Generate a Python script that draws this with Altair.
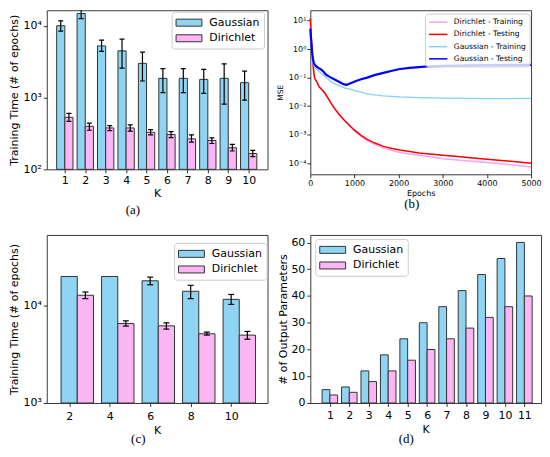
import altair as alt
import pandas as pd

# ---------------- data ----------------
# (a) training time vs K (log scale)
K_a = [1, 2, 3, 4, 5, 6, 7, 8, 9, 10]
gauss_a = [10000, 14800, 5240, 4470, 2990, 1850, 1850, 1790, 1850, 1610]
gauss_a_lo = [8440, 12600, 4400, 2570, 1700, 1170, 1170, 1140, 810, 920]
gauss_a_hi = [11700, 17400, 6300, 6500, 4280, 2520, 2520, 2470, 2950, 2330]
dir_a = [530, 397, 377, 377, 328, 305, 266, 252, 200, 166]
dir_a_lo = [466, 350, 347, 340, 302, 277, 240, 229, 180, 150]
dir_a_hi = [600, 440, 405, 415, 357, 335, 302, 275, 222, 184]

# (b) MSE vs epochs
dir_train_ep = [0, 20, 40, 60, 80, 100, 150, 200, 250, 320, 400, 480, 543, 650, 766, 880, 989,
                1150, 1288, 1450, 1658, 1850, 2031, 2254, 2462, 2700, 2998, 3400, 3743, 4200, 4600, 5000]
dir_train_mse = [12, 3.0, 0.8, 0.3, 0.15, 0.095, 0.07, 0.048, 0.04, 0.03, 0.019, 0.012, 0.0085, 0.0051,
                 0.0032, 0.0021, 0.0014, 0.00088, 0.00062, 0.00046, 0.00034, 0.00028, 0.00024, 0.00021,
                 0.00019, 0.00017, 0.000145, 0.000127, 0.000115, 0.0001, 0.000087, 0.000074]
dir_test_ep = [0, 20, 40, 60, 80, 100, 150, 200, 250, 320, 400, 480, 543, 650, 766, 880, 989,
               1150, 1288, 1450, 1658, 1850, 2031, 2254, 2462, 2700, 2998, 3400, 3743, 4200, 4600, 5000]
dir_test_mse = [12, 3.0, 0.8, 0.3, 0.15, 0.095, 0.07, 0.048, 0.04, 0.03, 0.019, 0.012, 0.0085, 0.0052,
                0.0033, 0.0022, 0.0015, 0.00095, 0.00069, 0.00052, 0.00039, 0.00033, 0.00029, 0.00026,
                0.00023, 0.00021, 0.00019, 0.00017, 0.00015, 0.00013, 0.000115, 0.0001]
gau_train_ep = [0, 20, 40, 60, 80, 100, 150, 200, 245, 300, 400, 469, 540, 618, 700, 766, 880, 989,
                1150, 1288, 1450, 1658, 1850, 2031, 2462, 3000, 3500, 4000, 4500, 5000]
gau_train_mse = [3.5, 1.2, 0.5, 0.32, 0.26, 0.23, 0.19, 0.16, 0.14, 0.12, 0.09, 0.071, 0.062, 0.055,
                 0.049, 0.044, 0.04, 0.036, 0.031, 0.027, 0.025, 0.023, 0.022, 0.021, 0.02, 0.019,
                 0.0187, 0.0185, 0.0185, 0.0186]
gau_test_ep = [0, 20, 40, 60, 80, 100, 150, 200, 250, 300, 350, 400, 469, 540, 618, 700, 766, 820, 870,
               950, 1050, 1150, 1288, 1450, 1658, 1850, 2031, 2254, 2462, 2700, 3000, 3500, 4000, 4500, 5000]
gau_test_mse = [5.2, 2.0, 0.8, 0.45, 0.33, 0.28, 0.24, 0.21, 0.19, 0.16, 0.13, 0.115, 0.1, 0.088, 0.076,
                0.065, 0.058, 0.056, 0.06, 0.068, 0.078, 0.088, 0.1, 0.122, 0.147, 0.175, 0.2, 0.22,
                0.235, 0.25, 0.26, 0.27, 0.275, 0.28, 0.28]

# (c) training time vs K (log scale)
K_c = [2, 4, 6, 8, 10]
gauss_c = [19700, 19700, 17800, 13900, 11500]
gauss_c_lo = [19700, 19700, 16200, 11700, 10200]
gauss_c_hi = [19700, 19700, 19400, 16000, 12900]
dir_c = [12650, 6500, 6160, 5110, 4950]
dir_c_lo = [11690, 6120, 5700, 4950, 4500]
dir_c_hi = [13670, 6930, 6610, 5320, 5400]

# (d) number of output parameters
K_d = [1, 2, 3, 4, 5, 6, 7, 8, 9, 10, 11]
gauss_d = [5, 6, 12, 18, 24, 30, 36, 42, 48, 54, 60]
dir_d = [3, 4, 8, 12, 16, 20, 24, 28, 32, 36, 40]

models = ["Gaussian", "Dirichlet"]
series_names = ["Dirichlet - Training", "Dirichlet - Testing", "Gaussian - Training", "Gaussian - Testing"]

# ---------------- styling ----------------
FONT = "DejaVu Sans"
GC = "#8fd4f3"
DC = "#fbb6f3"
EDGE = "#333333"
SERIES_COLORS = ["#f6a5ee", "#ff0000", "#87cefa", "#0000ff"]
SERIES_WIDTHS = [1.5, 1.5, 1.3, 2.2]
BAR_SYMBOL = "M-1,-0.54H3V0.54H-1Z"
LINE_SYMBOL = "M-1,0H3"

SUP = {-5: "⁻⁵", -4: "⁻⁴", -3: "⁻³", -2: "⁻²", -1: "⁻¹", 0: "⁰", 1: "¹", 2: "²", 3: "³", 4: "⁴"}
E = "round(log(datum.value)/LN10)"
POW_EXPR = "'10' + (" + " : ".join(f"{E} == {k} ? '{v}'" for k, v in SUP.items()) + " : '')"


def bar_table(K, g, d, glo=None, ghi=None, dlo=None, dhi=None, g_shift=-0.4, d_shift=0.0, w=0.4):
    rows = []
    for i, k in enumerate(K):
        for model, vals, lo, hi, sh in (("Gaussian", g, glo, ghi, g_shift),
                                        ("Dirichlet", d, dlo, dhi, d_shift)):
            x0 = k + sh
            rows.append({"K": k, "Model": model, "v": vals[i],
                         "lo": lo[i] if lo else vals[i], "hi": hi[i] if hi else vals[i],
                         "x0": x0, "x1": x0 + w, "xc": x0 + w / 2})
    return pd.DataFrame(rows)


def caption(text, dx, offset):
    return alt.TitleParams(text=text, orient="bottom", anchor="middle", font="Liberation Serif",
                           fontSize=13, fontWeight="normal", color="black", dx=dx, offset=offset)


def bar_panel(df, W, H, xdom, xticks, yscale, ybase, yaxis, leg_xy, cap, cap_size, clip,
              xlpad=2, xtpad=2, errors=True):
    xs = alt.Scale(domain=xdom, nice=False, zero=False)
    xa = alt.Axis(values=xticks, format="d", title="K", labelFontSize=11, titleFontSize=11,
                  labelPadding=xlpad, titlePadding=xtpad)
    color = alt.Color("Model:N", scale=alt.Scale(domain=models, range=[GC, DC]),
                      legend=alt.Legend(title=None, orient="none", legendX=leg_xy[0], legendY=leg_xy[1],
                                        symbolType=BAR_SYMBOL, symbolSize=169, symbolStrokeColor=EDGE,
                                        symbolStrokeWidth=1, symbolOpacity=1, labelFont=FONT,
                                        labelFontSize=11, labelOffset=20, rowPadding=2.7, padding=4,
                                        strokeColor="#cccccc", fillColor="rgba(255,255,255,0.8)",
                                        cornerRadius=3))
    base = alt.Chart(df)
    bars = base.mark_bar(stroke=EDGE, strokeWidth=1, opacity=1, orient="vertical").encode(
        x=alt.X("x0:Q", scale=xs, axis=xa), x2="x1:Q",
        y=alt.Y("v:Q", scale=yscale, axis=yaxis), y2=alt.datum(ybase), color=color)
    layers = [bars]
    if errors:
        err = base.transform_filter("datum.hi > datum.lo")
        rule = err.mark_rule(color="black", strokeWidth=1.2, clip=clip).encode(
            x=alt.X("xc:Q", scale=xs, axis=xa), y=alt.Y("lo:Q", scale=yscale, axis=yaxis), y2="hi:Q")
        cap_lo = err.mark_tick(orient="horizontal", color="black", size=cap_size, thickness=1.2,
                               clip=clip, opacity=1).encode(
            x=alt.X("xc:Q", scale=xs, axis=xa), y=alt.Y("lo:Q", scale=yscale, axis=yaxis))
        cap_hi = err.mark_tick(orient="horizontal", color="black", size=cap_size, thickness=1.2,
                               clip=clip, opacity=1).encode(
            x=alt.X("xc:Q", scale=xs, axis=xa), y=alt.Y("hi:Q", scale=yscale, axis=yaxis))
        layers += [rule, cap_lo, cap_hi]
    return alt.layer(*layers).properties(width=W, height=H, title=cap)


def log_axis(values, title, extent, tpad, fs, tfs, lpad):
    return alt.Axis(values=values, title=title, labelExpr=POW_EXPR, labelFontSize=fs, titleFontSize=tfs,
                    minExtent=extent, maxExtent=extent, titlePadding=tpad, labelPadding=lpad)


# ---- panel (a)
df_a = bar_table(K_a, gauss_a, dir_a, gauss_a_lo, gauss_a_hi, dir_a_lo, dir_a_hi)
pa = bar_panel(df_a, 222, 160, [0.36, 10.68], K_a,
               alt.Scale(type="log", domain=[100, 16450], nice=False), 100,
               log_axis([100, 1000, 10000], "Training Time (# of epochs)", 24, 3, 11, 11, 2),
               (125.5, 1.5), caption("(a)", -24.5, 5), 5, True)

# ---- panel (c)
df_c = bar_table(K_c, gauss_c, dir_c, gauss_c_lo, gauss_c_hi, dir_c_lo, dir_c_hi,
                 g_shift=-0.4, d_shift=0.4, w=0.8)
pc = bar_panel(df_c, 222, 169, [1.14, 11.55], K_c,
               alt.Scale(type="log", domain=[1000, 52400], nice=False), 1000,
               log_axis([1000, 10000], "Training Time (# of epochs)", 24, 3, 11, 11, 2),
               (128, 8), caption("(c)", -19, -2), 6, False, xlpad=4, xtpad=3)

# ---- panel (d)
df_d = bar_table(K_d, gauss_d, dir_d)
pd_ = bar_panel(df_d, 232, 169, [0.25, 11.6], K_d,
                alt.Scale(domain=[0, 62.8], nice=False, zero=True), 0,
                alt.Axis(values=[0, 10, 20, 30, 40, 50, 60], title="# of Output Parameters",
                         labelFontSize=11, titleFontSize=11, minExtent=20, maxExtent=20,
                         titlePadding=2, labelPadding=2),
                (5, 4), caption("(d)", -19.5, -2), 5, False, xlpad=3.5, xtpad=3, errors=False)

# ---- panel (b)
rows_b = []
for name, eps, vals in ((series_names[0], dir_train_ep, dir_train_mse),
                        (series_names[1], dir_test_ep, dir_test_mse),
                        (series_names[2], gau_train_ep, gau_train_mse),
                        (series_names[3], gau_test_ep, gau_test_mse)):
    for e, v in zip(eps, vals):
        rows_b.append({"Series": name, "Epoch": e, "MSE": v})
df_b = pd.DataFrame(rows_b)

xs_b = alt.Scale(domain=[0, 5000], nice=False, zero=False)
xa_b = alt.Axis(values=[0, 1000, 2000, 3000, 4000, 5000], format="d", title="Epochs",
                labelFontSize=8, titleFontSize=8, labelPadding=1.5, titlePadding=2)
ys_b = alt.Scale(type="log", domain=[4.1e-5, 23], nice=False)
ya_b = log_axis([1e-4, 1e-3, 1e-2, 1e-1, 1, 10], "MSE", 21, 5, 8, 7.5, 1)
color_b = alt.Color("Series:N", scale=alt.Scale(domain=series_names, range=SERIES_COLORS),
                    legend=alt.Legend(title=None, orient="none", legendX=115.5, legendY=3.5,
                                      symbolType=LINE_SYMBOL, symbolSize=85, symbolStrokeWidth=1.5,
                                      labelFont=FONT, labelFontSize=7.6, labelOffset=14.8,
                                      rowPadding=2.3, padding=3, strokeColor="#cccccc",
                                      fillColor="rgba(255,255,255,0.8)", cornerRadius=3))
line_layers = []
for name, w in zip(series_names, SERIES_WIDTHS):
    line_layers.append(
        alt.Chart(df_b).transform_filter(alt.datum.Series == name).mark_line(strokeWidth=w).encode(
            x=alt.X("Epoch:Q", scale=xs_b, axis=xa_b),
            y=alt.Y("MSE:Q", scale=ys_b, axis=ya_b),
            color=color_b))
pb = alt.layer(*line_layers).properties(width=222, height=165, title=caption("(b)", -9, 1))

chart = alt.concat(pa, pb, pc, pd_, columns=2, spacing={"row": 61, "column": 43},
                   bounds="flush").resolve_scale(
    color="independent"
).properties(padding=0).configure_view(
    stroke="#3a3a3a", strokeWidth=1
).configure_axis(
    grid=False, domain=False, tickColor="#000000", tickWidth=0.8, tickSize=3.5,
    labelFlush=False, labelOverlap=False, labelColor="#000000", titleColor="#000000",
    labelFont=FONT, titleFont=FONT, titleFontWeight="normal"
)

chart.save("out.html", embed_options={"renderer": "svg", "actions": False})
